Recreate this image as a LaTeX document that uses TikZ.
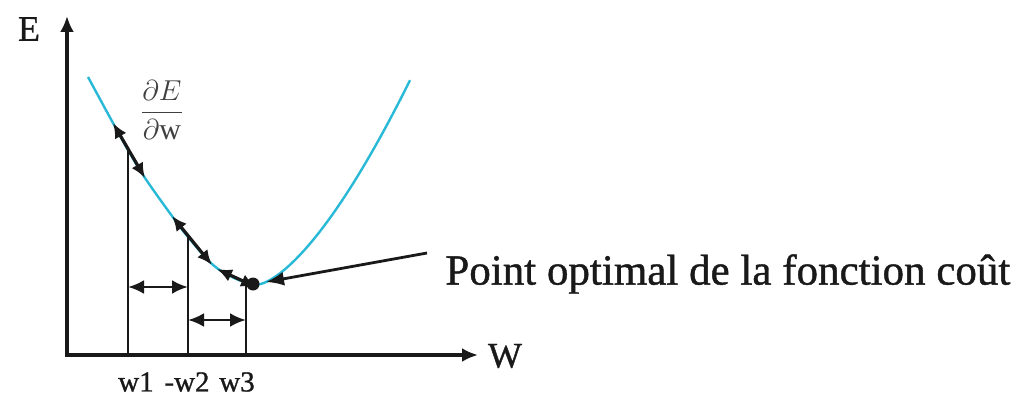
\documentclass[tikz,border=0pt]{standalone}
\usepackage{fontspec}
\setmainfont{Liberation Serif}
\newfontfamily\tnr[FakeBold=1]{Liberation Serif}
\usetikzlibrary{arrows.meta,calc}
\definecolor{curvecol}{RGB}{40,185,215}
\definecolor{inkcol}{RGB}{25,25,25}
\begin{document}
\begin{tikzpicture}[x=0.5pt,y=-0.5pt,
  axisline/.style={line width=1.6pt,inkcol,{Latex[length=8pt,width=7pt]}-{Latex[length=8pt,width=7pt]}},
  vline/.style={line width=1.4pt,inkcol},
  gradarrow/.style={line width=1.6pt,inkcol,{Latex[length=7.5pt,width=6.5pt]}-{Latex[length=7.5pt,width=6.5pt]}},
  steparrow/.style={line width=1.4pt,inkcol,{Latex[length=8pt,width=7pt]}-{Latex[length=8pt,width=7pt]}},
  pointer/.style={line width=1.4pt,inkcol,-{Latex[length=9pt,width=7pt]}},
  lbl/.style={inner sep=0pt,text=inkcol}]
\useasboundingbox (0,0) rectangle (1022,401);
% axes
\coordinate (O) at (67,355);
\coordinate (Ytop) at (67,16);
\coordinate (Xend) at (478,355);
\draw[axisline] (Ytop) -- (O) -- (Xend);
\node[lbl,font=\tnr\fontsize{18}{20}\selectfont] (E) at (29,29) {E};
\node[lbl,font=\tnr\fontsize{18}{20}\selectfont] (W) at (505,356) {W};
% cost curve
\draw[curvecol,line width=1.2pt] plot[smooth,tension=0.6] coordinates
 {(88,77) (113,123) (128,150) (145,178) (172,216) (188,237) (212,264) (232,277) (248,283) (258,284.5)}
 -- plot[domain=0:152,samples=50] ({258+\x},{284.5-0.109*\x*sqrt(\x)});
% gradient steps along the curve
\coordinate (A1) at (113,123); \coordinate (B1) at (145,178);
\coordinate (A2) at (172,216); \coordinate (B2) at (212,265);
\coordinate (A3) at (217,269); \coordinate (B3) at (256,287);
\draw[gradarrow] (A1) -- (B1);
\draw[gradarrow] (A2) -- (B2);
\draw[gradarrow] (A3) -- (B3);
\coordinate (P) at (253,284);
\fill[inkcol] (P) circle (6.5);
% vertical lines
\coordinate (T1) at (128,150); \coordinate (F1) at (128,355);
\coordinate (T2) at (188,237); \coordinate (F2) at (188,355);
\coordinate (T3) at (246,285); \coordinate (F3) at (246,355);
\draw[vline] (F1) -- (T1);
\draw[vline] (F2) -- (T2);
\draw[vline] (F3) -- (T3);
% step widths
\coordinate (H1a) at (128,287); \coordinate (H1b) at (188,287);
\coordinate (H2a) at (188,320); \coordinate (H2b) at (246,320);
\draw[steparrow] (H1a) -- (H1b);
\draw[steparrow] (H2a) -- (H2b);
% labels
\node[lbl,font=\tnr\fontsize{14.5}{16}\selectfont] (w1) at (136,382) {w1};
\node[lbl,font=\tnr\fontsize{14.5}{16}\selectfont] (w2) at (187,382) {-w2};
\node[lbl,font=\tnr\fontsize{14.5}{16}\selectfont] (w3) at (237,382) {w3};
\node[lbl,font=\fontsize{15}{18}\selectfont,text=black!75] (dEdw) at (162,110) {$\displaystyle\frac{\partial E}{\partial \mathrm{w}}$};
\node[lbl,anchor=west,font=\tnr\fontsize{21.5}{24}\selectfont] (pt) at (445,274) {Point optimal de la fonction coût};
\coordinate (S) at (427,253);
\coordinate (Ptip) at (266,282);
\draw[pointer] (S) -- (Ptip);
\end{tikzpicture}
\end{document}
